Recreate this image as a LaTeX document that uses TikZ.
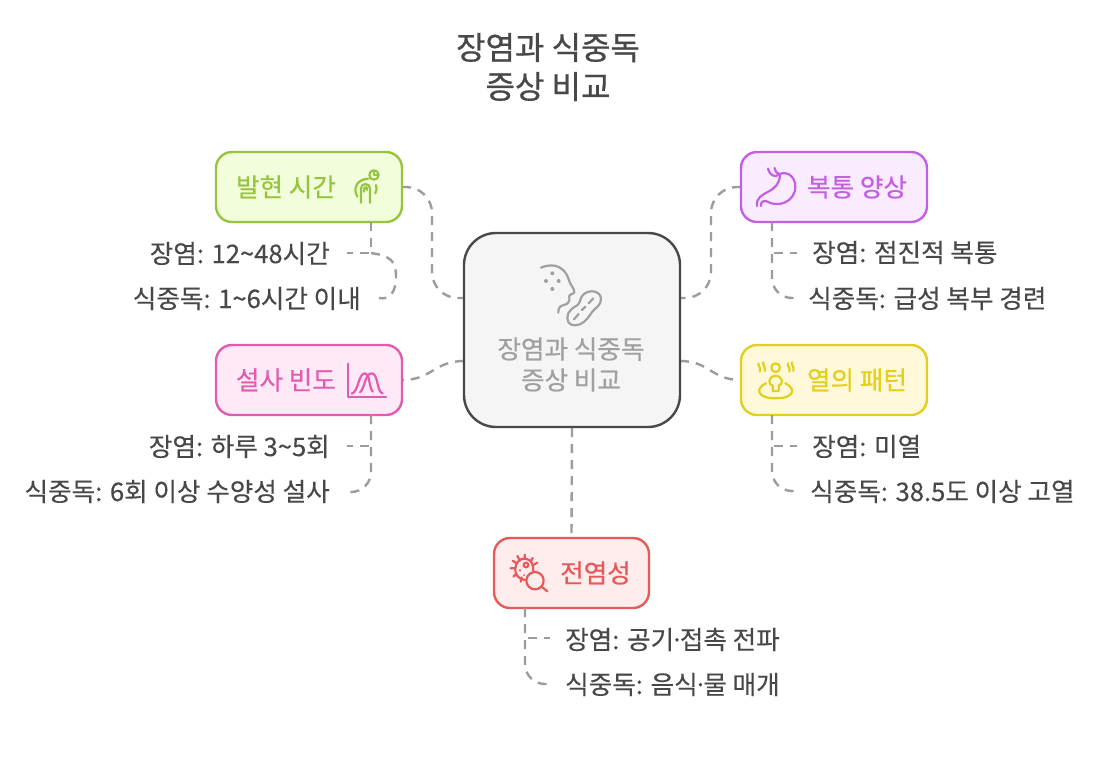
\documentclass[tikz,border=0pt]{standalone}
\usepackage{fontspec}
\setmainfont{Noto Sans CJK KR}
\newfontfamily\titlef[FakeBold=0.7]{Noto Sans CJK KR}
\newfontfamily\medf[FakeBold=0.6]{Noto Sans CJK KR}
\newfontfamily\leaff[FakeBold=0.25]{Noto Sans CJK KR}
\usetikzlibrary{calc}
\definecolor{ink}{HTML}{484848}
\definecolor{conn}{HTML}{9C9C9C}
\definecolor{cgreen}{HTML}{97C43F}\definecolor{fgreen}{HTML}{F2FEDB}
\definecolor{cpurple}{HTML}{C45FE2}\definecolor{fpurple}{HTML}{F9ECFE}
\definecolor{cpink}{HTML}{E25BB0}\definecolor{fpink}{HTML}{FEEAF7}
\definecolor{cyellow}{HTML}{E3CF1E}\definecolor{fyellow}{HTML}{FFF9D9}
\definecolor{cred}{HTML}{E85A5A}\definecolor{fred}{HTML}{FFECEC}
\definecolor{cgray}{HTML}{A0A0A0}
\newcommand{\mdot}{\kern-.17em·\kern-.17em}
\tikzset{
 cbox/.style={draw=#1,line width=2.4pt,rounded corners=16pt,minimum height=70pt,inner sep=0pt},
 connector/.style={draw=conn,line width=2.4pt,dash pattern=on 9pt off 7pt,rounded corners=#1},
 connector/.default=22pt,
 leafl/.style={text=ink,font=\fontsize{25.6}{30}\leaff,anchor=east,inner sep=0pt},
 leafr/.style={text=ink,font=\fontsize{25.6}{30}\leaff,anchor=west,inner sep=0pt},
 boxtext/.style={font=\fontsize{25.6}{30}\medf,inner sep=0pt},
 icon/.style={line width=2.2pt,line cap=round,line join=round},
}
\begin{document}
\begin{tikzpicture}[x=1pt,y=-1pt]
\useasboundingbox (0,0) rectangle (1117,761);
\fill[white] (0,0) rectangle (1117,761);
% title
\node[text=ink,font=\fontsize{32}{39}\titlef,align=center,inner sep=0pt] (title) at (548,67) {장염과 식중독\\증상 비교};
% connector coordinates
\coordinate (cul) at (464,298);\coordinate (cur) at (680,298);
\coordinate (cll) at (464,361);\coordinate (clr) at (680,361);
\coordinate (v1) at (432,240);\coordinate (v2) at (711,240);
\coordinate (g1) at (371,222);\coordinate (g2) at (772,222);\coordinate (g3) at (371,415);\coordinate (g4) at (772,415);\coordinate (g5) at (525,608);
\coordinate (e1a) at (347,253);\coordinate (e1b) at (379,298);\coordinate (b1) at (371,253);\coordinate (k1) at (396,277);
\coordinate (e2a) at (797,253);\coordinate (e2b) at (797,298);\coordinate (b2) at (772,253);
\coordinate (e3a) at (347,446);\coordinate (e3b) at (347,492);\coordinate (b3) at (371,446);
\coordinate (e4a) at (797,446);\coordinate (e4b) at (797,491);\coordinate (b4) at (772,446);
\coordinate (e5a) at (550,638);\coordinate (e5b) at (550,684);\coordinate (b5) at (525,638);
% main connectors (drawn below the boxes)
\coordinate (onsetE) at (402,187);\coordinate (painW) at (741,187);\coordinate (diarE) at (402,380);\coordinate (feverW) at (741,380);
\draw[connector=26pt] (onsetE) -| (v1) |- (cul);
\draw[connector=26pt] (painW) -| (v2) |- (cur);
\draw[connector=0pt] (cll) .. controls ($(cll)+(-30,0)$) and ($(diarE)+(30,0)$) .. (diarE);
\draw[connector=0pt] (clr) .. controls ($(clr)+(30,0)$) and ($(feverW)+(-30,0)$) .. (feverW);
% boxes
\node[cbox=ink,fill=black!4,minimum width=216pt,minimum height=194pt,rounded corners=32pt] (center) at (572,330) {};
\node[cbox=cgreen,fill=fgreen,minimum width=186pt] (onset) at (309,187) {};
\node[cbox=cpurple,fill=fpurple,minimum width=186pt] (pain) at (834,187) {};
\node[cbox=cpink,fill=fpink,minimum width=186pt] (diar) at (309,380) {};
\node[cbox=cyellow,fill=fyellow,minimum width=186pt] (fever) at (834,380) {};
\node[cbox=cred,fill=fred,minimum width=155pt] (infect) at (571.5,573) {};
\draw[connector=0pt] (center.south) -- (infect.north);
% box text
\node[text=cgray,font=\fontsize{25.6}{31}\medf,align=center,inner sep=0pt] (ctext) at (571,364.5) {장염과 식중독\\증상 비교};
\node[boxtext,text=cgreen] (t1) at (286,187) {발현 시간};
\node[boxtext,text=cpurple] (t2) at (857,187) {복통 양상};
\node[boxtext,text=cpink] (t3) at (286,380) {설사 빈도};
\node[boxtext,text=cyellow] (t4) at (857,380) {열의 패턴};
\node[boxtext,text=cred] (t5) at (595.5,573) {전염성};
% leaves
\node[leafl] (l1a) at (330,253.5) {장염: 12\textasciitilde48시간};
\node[leafl] (l1b) at (361,298.5) {식중독: 1\textasciitilde6시간 이내};
\node[leafr] (l2a) at (812,252.5) {장염: 점진적 복통};
\node[leafr] (l2b) at (808,298.5) {식중독: 급성 복부 경련};
\node[leafl] (l3a) at (330,446.5) {장염: 하루 3\textasciitilde5회};
\node[leafl] (l3b) at (330,491.5) {식중독: 6회 이상 수양성 설사};
\node[leafr] (l4a) at (812,446.5) {장염: 미열};
\node[leafr] (l4b) at (810,491.5) {식중독: 38.5도 이상 고열};
\node[leafr] (l5a) at (565,639.5) {장염: 공기\mdot 접촉 전파};
\node[leafr] (l5b) at (565,684.5) {식중독: 음식\mdot 물 매개};
% leaf connectors
\draw[connector=1pt] (g1) -- (b1) -- (e1a);
\draw[connector=0pt] (b1) .. controls ($(b1)+(20,3)$) and ($(k1)+(0,-16)$) .. (k1) .. controls ($(k1)+(0,16)$) and ($(e1b)+(10,2)$) .. (e1b);
\draw[connector=1pt] (g2) -- (b2) -- (e2a);
\draw[connector=20pt] (g2) |- (e2b);
\draw[connector=1pt] (g3) -- (b3) -- (e3a);
\draw[connector=20pt] (g3) |- (e3b);
\draw[connector=1pt] (g4) -- (b4) -- (e4a);
\draw[connector=20pt] (g4) |- (e4b);
\draw[connector=1pt] (g5) -- (b5) -- (e5a);
\draw[connector=20pt] (g5) |- (e5b);
% centre icon
\begin{scope}[shift={(460,230)},x=0.3333pt,y=-0.3333pt,draw=cgray,fill=cgray,icon]
\draw (243,113) .. controls (285,95) and (315,115) .. (325,145) .. controls (330,165) and (343,175) .. (343,185) .. controls (343,193) and (328,192) .. (328,198) .. controls (330,215) and (325,222) .. (312,225) .. controls (300,228) and (295,232) .. (295,248);
\fill (258,153) circle (6) (277,130) circle (6) (296,153) circle (6) (277,177) circle (6);
\draw (322,265) .. controls (320,245) and (340,232) .. (353,225) .. controls (362,218) and (360,200) .. (372,192) .. controls (390,178) and (420,182) .. (423,205) .. controls (425,225) and (405,235) .. (397,245) .. controls (388,258) and (378,275) .. (360,283) .. controls (340,290) and (323,285) .. (322,265) -- cycle;
\draw (342,268) -- (356,252) (366,240) -- (376,230) (386,220) -- (400,205);
\end{scope}
% onset icon
\begin{scope}[shift={(200,140)},x=0.3333pt,y=-0.3333pt,draw=cgreen,fill=cgreen,icon]
\draw (522,105) circle (14);
\draw (522,96) -- (522,106) -- (531,106);
\draw (483,188) -- (483,145) .. controls (483,128) and (510,128) .. (510,145) -- (510,188);
\draw (492,155) .. controls (490,138) and (503,138) .. (501,150);
\draw (472,170) .. controls (458,145) and (470,118) .. (505,116);
\draw (526,160) .. controls (530,150) and (531,145) .. (528,135);
\end{scope}
% stomach icon
\begin{scope}[shift={(670,140)},x=0.3333pt,y=-0.3333pt,draw=cpurple,icon]
\draw (294,86) .. controls (298,100) and (305,108) .. (318,108) .. controls (345,88) and (376,105) .. (376,140) .. controls (376,185) and (325,205) .. (290,184) .. controls (278,180) and (272,188) .. (273,198);
\draw (314,84) .. controls (316,95) and (322,102) .. (330,103) .. controls (330,130) and (315,145) .. (295,155) .. controls (275,165) and (258,175) .. (261,198);
\end{scope}
% bell icon
\begin{scope}[shift={(200,335)},x=0.3333pt,y=-0.3333pt,draw=cpink,icon]
\draw (445,86) -- (445,185) -- (558,185);
\draw (455,176) .. controls (475,172) and (475,115) .. (495,115) .. controls (510,115) and (505,150) .. (518,170);
\draw (480,172) .. controls (495,160) and (495,115) .. (515,115) .. controls (535,115) and (530,172) .. (548,175);
\end{scope}
% person icon
\begin{scope}[shift={(670,335)},x=0.3333pt,y=-0.3333pt,draw=cyellow,icon]
\draw (317,98) circle (13);
\draw (308,168) -- (308,152) .. controls (295,150) and (292,125) .. (317,122) .. controls (342,125) and (339,150) .. (326,152) -- (326,168) -- cycle;
\draw (288,145) .. controls (255,160) and (260,190) .. (317,190) .. controls (374,190) and (379,160) .. (346,145);
\draw (266,85) .. controls (262,92) and (274,96) .. (270,110);
\draw (280,82) .. controls (276,90) and (288,94) .. (284,108);
\draw (354,85) .. controls (350,92) and (362,96) .. (358,110);
\draw (366,82) .. controls (362,90) and (374,94) .. (370,108);
\end{scope}
% virus icon
\begin{scope}[shift={(480,530)},x=0.3333pt,y=-0.3333pt,draw=cred,icon]
\draw (165,152) circle (26);
\draw (185,170) -- (202,184);
\draw (140,87) .. controls (115,80) and (100,110) .. (108,130) .. controls (112,142) and (125,150) .. (138,150);
\draw (140,87) .. controls (155,90) and (160,105) .. (160,122);
\draw (138,105) circle (7);
\fill[cred] (120,121) circle (4) (132,135) circle (3);
\draw (112,78) -- (120,92) (134,74) -- (135,86) (158,84) -- (152,95) (172,98) -- (160,105) (92,115) -- (106,115) (98,92) -- (110,100) (100,140) -- (110,130) (122,155) -- (125,142);
\end{scope}
\end{tikzpicture}
\end{document}
